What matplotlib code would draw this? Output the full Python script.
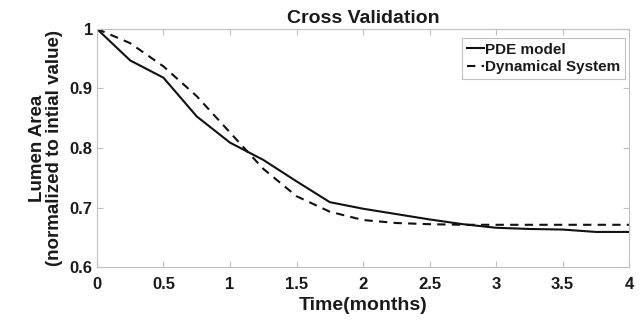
import matplotlib.pyplot as plt

# time points (months)
tiempo = [0, 0.25, 0.5, 0.75, 1.0, 1.25, 1.5, 1.75, 2.0, 2.25, 2.5, 2.75, 3.0, 3.25, 3.5, 3.75, 4.0]

# PDE model
pde_model = [1.0, 0.947, 0.918, 0.853, 0.809, 0.780, 0.744, 0.709, 0.698, 0.689, 0.680, 0.672,
             0.666, 0.664, 0.663, 0.659, 0.659]

# Dynamical System
dyn_system = [1.0, 0.976, 0.937, 0.887, 0.826, 0.765, 0.719, 0.693, 0.679, 0.674, 0.672, 0.671,
              0.671, 0.671, 0.671, 0.671, 0.671]

plt.rcParams['font.family'] = ['Liberation Sans', 'DejaVu Sans']
plt.rcParams['font.weight'] = 'bold'

fig = plt.figure(figsize=(6.42, 3.21), dpi=100)
ax = fig.add_axes([0.151, 0.168, 0.829, 0.742])

ax.plot(tiempo, pde_model, linestyle='-', color='#111111', linewidth=1.5, label='PDE model')
ax.plot(tiempo, dyn_system, linestyle='--', color='#111111', linewidth=1.5, dashes=(4, 3),
        label='Dynamical System')

ax.set_xlim(0, 4)
ax.set_ylim(0.6, 1.0)
ax.set_xticks([0, 0.5, 1, 1.5, 2, 2.5, 3, 3.5, 4])
ax.set_xticklabels(['0', '0.5', '1', '1.5', '2', '2.5', '3', '3.5', '4'])
ax.set_yticks([0.6, 0.7, 0.8, 0.9, 1.0])
ax.set_yticklabels(['0.6', '0.7', '0.8', '0.9', '1'])

for s in ax.spines.values():
    s.set_color('#c0c0c0')
    s.set_linewidth(0.8)
ax.tick_params(direction='in', top=True, right=True, length=4, color='#c0c0c0',
               labelsize=12, labelcolor='#1a1a1a')
ax.tick_params(axis='x', pad=7)
ax.tick_params(axis='y', pad=3)

ax.set_title('Cross Validation', fontsize=14, fontweight='bold', pad=4, color='#1a1a1a')
ax.set_xlabel('Time(months)', fontsize=14, fontweight='bold', labelpad=4, color='#1a1a1a')
ax.set_ylabel('Lumen Area\n(normalized to intial value)', fontsize=13.5, fontweight='bold',
              linespacing=1.0, labelpad=5, color='#1a1a1a')

leg = ax.legend(loc='upper right', bbox_to_anchor=(0.9925, 0.962), borderaxespad=0,
                fontsize=11, handlelength=1.1, handletextpad=0.1,
                borderpad=0.3, labelspacing=0.25, fancybox=False, framealpha=1)
leg.get_frame().set_edgecolor('#c0c0c0')
leg.get_frame().set_linewidth(0.8)
for t in leg.get_texts():
    t.set_color('#1a1a1a')

fig.savefig('out.png', dpi=100)
